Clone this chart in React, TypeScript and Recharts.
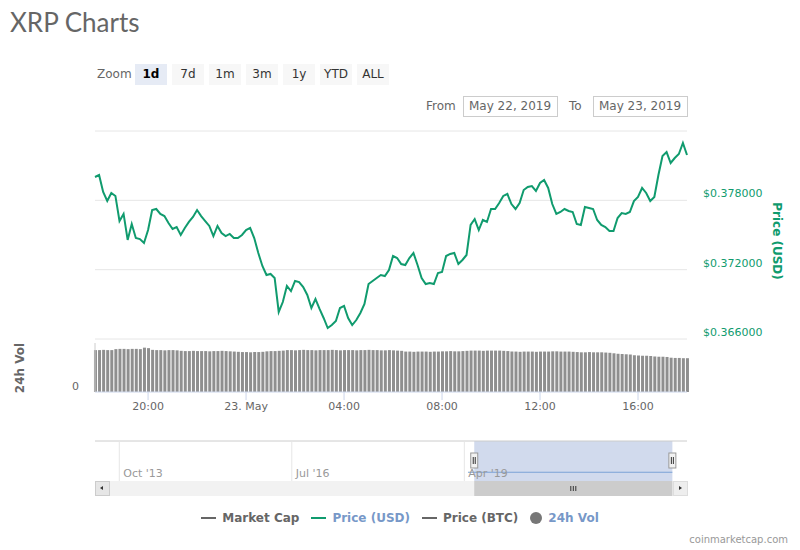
import React from "react";
import {
  LineChart,
  Line,
  BarChart,
  Bar,
  XAxis,
  YAxis,
  CartesianGrid,
  ReferenceArea,
  ReferenceLine,
} from "recharts";

// XRP price (USD), one point every 10 minutes from 22 May 17:50 to 23 May 18:00
const priceUsd = [
  0.38002, 0.38019, 0.37872, 0.37794, 0.37864, 0.37838, 0.37621, 0.37682, 0.37457, 0.37595,
  0.37474, 0.37465, 0.37431, 0.37543, 0.37716, 0.37725, 0.37682, 0.37664, 0.37604, 0.37552,
  0.37569, 0.375, 0.37561, 0.37613, 0.37656, 0.37716, 0.37664, 0.37621, 0.37578, 0.37491,
  0.37578, 0.37517, 0.37491, 0.37509, 0.37474, 0.37474, 0.375, 0.37543, 0.37561, 0.37474,
  0.37344, 0.37232, 0.37154, 0.37163, 0.37128, 0.36834, 0.3692, 0.37059, 0.37015, 0.37102,
  0.37093, 0.3705, 0.36981, 0.36868, 0.36946, 0.3686, 0.36782, 0.36695, 0.36721, 0.36756,
  0.36868, 0.36886, 0.36782, 0.36721, 0.36764, 0.36825, 0.36903, 0.37076, 0.37102, 0.37128,
  0.37154, 0.37145, 0.37197, 0.37318, 0.37301, 0.37249, 0.3724, 0.37301, 0.37344, 0.3724,
  0.37128, 0.37076, 0.37085, 0.37076, 0.37171, 0.3718, 0.37318, 0.37336, 0.37344, 0.37249,
  0.37284, 0.37327, 0.37587, 0.37638, 0.37543, 0.3763, 0.37613, 0.37725, 0.37725, 0.37777,
  0.37838, 0.37855, 0.37768, 0.37725, 0.37777, 0.37889, 0.37915, 0.37924, 0.37881, 0.3795,
  0.37976, 0.37907, 0.37768, 0.37682, 0.37699, 0.37725, 0.37708, 0.37699, 0.37595, 0.37587,
  0.37742, 0.37734, 0.37725, 0.3763, 0.37587, 0.37569, 0.37535, 0.37535, 0.37647, 0.3769,
  0.37682, 0.37699, 0.37794, 0.37829, 0.37907, 0.37864, 0.37794, 0.37829, 0.38019, 0.38184,
  0.38218, 0.38123, 0.38166, 0.38201, 0.38296, 0.38192,
];

// 24h volume (billions USD), same timestamps
const volume24h = [
  1.71, 1.71, 1.72, 1.71, 1.71,
  1.75, 1.76, 1.76, 1.75, 1.76, 1.76, 1.75,
  1.81, 1.79,
  1.72, 1.71, 1.71, 1.7, 1.71, 1.71, 1.7,
  1.68, 1.67, 1.67, 1.68, 1.67, 1.67, 1.67, 1.66, 1.67, 1.67, 1.68, 1.67, 1.66,
  1.65, 1.64, 1.63,
  1.63, 1.62, 1.63, 1.63, 1.64,
  1.66, 1.67, 1.67, 1.68, 1.69,
  1.71, 1.71, 1.7, 1.71, 1.72, 1.71, 1.71, 1.7, 1.71, 1.71, 1.71, 1.72, 1.71, 1.7, 1.71,
  1.71, 1.71, 1.7, 1.71, 1.71, 1.72, 1.71, 1.71, 1.7, 1.7, 1.71, 1.7, 1.69, 1.68,
  1.65, 1.65, 1.64, 1.65, 1.65, 1.65, 1.64, 1.65, 1.65,
  1.66, 1.66, 1.67, 1.66, 1.66, 1.67, 1.68,
  1.69, 1.69, 1.69, 1.68, 1.69, 1.69, 1.69, 1.69, 1.68, 1.67,
  1.65, 1.65, 1.64, 1.65, 1.65, 1.65, 1.64, 1.65, 1.65, 1.65, 1.66, 1.66, 1.65, 1.65, 1.65, 1.64, 1.63,
  1.62, 1.62, 1.63, 1.62, 1.62, 1.62, 1.61, 1.6, 1.58,
  1.56, 1.55, 1.54, 1.53,
  1.5, 1.49, 1.48, 1.48, 1.47,
  1.45, 1.44, 1.44, 1.43,
  1.4, 1.39, 1.39, 1.38, 1.38,
];

const STEP_MIN = 10;
const timeTicks = [130, 370, 610, 850, 1090, 1330];
const timeTickLabels = ["20:00", "23. May", "04:00", "08:00", "12:00", "16:00"];
const priceTicks = [0.366, 0.372, 0.378, 0.384];

const zoomButtons = ["1d", "7d", "1m", "3m", "1y", "YTD", "ALL"];

// navigator: months since Jan 2013
const navTicks = [9, 42, 75];
const navTickLabels = ["Oct '13", "Jul '16", "Apr '19"];
const navLineMonths = [75.7, 114.8];
const navLinePrice = [0.375, 0.375];
const navSelection = [76.9, 114.8];

const legendNames = ["Market Cap", "Price (USD)", "Price (BTC)", "24h Vol"];
const legendSymbolColors = ["#666666", "#109b6e", "#666666", "#777777"];
const legendTextColors = ["#666666", "#7798c8", "#666666", "#7798c8"];

const FONT = '"DejaVu Sans", Verdana, sans-serif';
const GREEN = "#109b6e";

const data = priceUsd.map((p, i) => ({ t: i * STEP_MIN, price: p, vol: volume24h[i] }));
const navData = navLineMonths.map((m, i) => ({ m, p: navLinePrice[i] }));

const PriceTick = (props: any) => {
  const { x, y, payload } = props;
  if (payload.value >= 0.384) return null;
  return (
    <text x={x + 8} y={y - 3} fill={GREEN} fontSize={11} fontFamily={FONT} textAnchor="start">
      ${payload.value.toFixed(6)}
    </text>
  );
};

const VolTick = (props: any) => {
  const { x, y, payload } = props;
  return (
    <text
      x={x - 8}
      y={y - 2}
      fill="#666666"
      style={{ fill: "#666666" }}
      fontSize={11}
      fontFamily={FONT}
      textAnchor="end"
    >
      {String(payload.value)}
    </text>
  );
};

const SelectionShape = (props: any) => {
  const { x, y, width, height } = props;
  const handle = (hx: number) => (
    <g>
      <rect x={hx - 3.5} y={y + 12} width={7} height={15} fill="#f2f2f2" stroke="#999" strokeWidth={1} />
      <line x1={hx - 1} y1={y + 16} x2={hx - 1} y2={y + 23} stroke="#333" strokeWidth={1} />
      <line x1={hx + 1} y1={y + 16} x2={hx + 1} y2={y + 23} stroke="#333" strokeWidth={1} />
    </g>
  );
  const cx = x + width / 2;
  return (
    <g>
      <rect x={x} y={y} width={width} height={height} fill="#6685c2" fillOpacity={0.3} />
      <rect x={x} y={y + height} width={width} height={15} fill="#cccccc" />
      {[-2.5, 0, 2.5].map((d) => (
        <line key={d} x1={cx + d} y1={y + height + 5} x2={cx + d} y2={y + height + 10} stroke="#333" strokeWidth={1} />
      ))}
      {handle(x)}
      {handle(x + width)}
    </g>
  );
};

export default function App() {
  return (
    <div
      style={{
        position: "absolute",
        left: 0,
        top: 0,
        width: 800,
        height: 550,
        background: "#fff",
        fontFamily: FONT,
        overflow: "hidden",
      }}
    >
      <div
        style={{
          position: "absolute",
          left: 10,
          top: 6,
          fontSize: 26,
          color: "#666",
          fontFamily: "Lato, sans-serif",
        }}
      >
        XRP Charts
      </div>

      {/* range selector */}
      <div style={{ position: "absolute", left: 97, top: 64, height: 21, lineHeight: "21px", fontSize: 12, color: "#666" }}>
        Zoom
      </div>
      <div style={{ position: "absolute", left: 135, top: 64, display: "flex", gap: 5 }}>
        {zoomButtons.map((b, i) => (
          <div
            key={b}
            style={{
              width: 32,
              height: 21,
              lineHeight: "21px",
              textAlign: "center",
              fontSize: 12,
              background: i === 0 ? "#e6ebf5" : "#f7f7f7",
              color: i === 0 ? "#000" : "#333",
              fontWeight: i === 0 ? "bold" : "normal",
            }}
          >
            {b}
          </div>
        ))}
      </div>

      <div style={{ position: "absolute", left: 426, top: 96, lineHeight: "21px", fontSize: 12, color: "#666" }}>From</div>
      <div
        style={{
          position: "absolute",
          left: 463,
          top: 96,
          width: 88,
          height: 19,
          border: "1px solid #ccc",
          lineHeight: "19px",
          fontSize: 12,
          color: "#666",
          paddingLeft: 5,
        }}
      >
        May 22, 2019
      </div>
      <div style={{ position: "absolute", left: 569, top: 96, lineHeight: "21px", fontSize: 12, color: "#666" }}>To</div>
      <div
        style={{
          position: "absolute",
          left: 593,
          top: 96,
          width: 88,
          height: 19,
          border: "1px solid #ccc",
          lineHeight: "19px",
          fontSize: 12,
          color: "#666",
          paddingLeft: 5,
        }}
      >
        May 23, 2019
      </div>

      {/* price panel */}
      <div style={{ position: "absolute", left: 0, top: 120 }}>
        <LineChart width={800} height={230} data={data} margin={{ top: 11, right: 33, bottom: 11, left: 95 }}>
          <CartesianGrid vertical={false} stroke="#e6e6e6" />
          <XAxis dataKey="t" type="number" domain={[0, 1450]} hide />
          <YAxis
            orientation="right"
            width={80}
            domain={[0.366, 0.384]}
            ticks={priceTicks}
            axisLine={false}
            tickLine={false}
            tick={<PriceTick />}
          />
          <Line
            type="linear"
            dataKey="price"
            stroke={GREEN}
            strokeWidth={2}
            dot={false}
            isAnimationActive={false}
          />
        </LineChart>
      </div>
      <div
        style={{
          position: "absolute",
          left: 777,
          top: 241,
          transform: "translate(-50%, -50%) rotate(90deg)",
          whiteSpace: "nowrap",
          fontSize: 12,
          fontWeight: "bold",
          color: GREEN,
        }}
      >
        Price (USD)
      </div>

      {/* volume panel */}
      <div style={{ position: "absolute", left: 0, top: 330 }}>
        <BarChart width={800} height={100} data={data} margin={{ top: 13, right: 113, bottom: 8, left: 55 }}>
          <XAxis
            dataKey="t"
            type="number"
            domain={[0, 1450]}
            ticks={timeTicks}
            tickFormatter={(v) => timeTickLabels[timeTicks.indexOf(v)]}
            height={30}
            tickSize={8}
            axisLine={{ stroke: "#ccd6eb" }}
            tickLine={{ stroke: "#ccd6eb" }}
            tick={{ fill: "#666", fontSize: 11, fontFamily: FONT }}
          />
          <YAxis
            width={40}
            domain={[0, 2]}
            ticks={[0]}
            axisLine={{ stroke: "#ccc" }}
            tickLine={false}
            tick={(p: any) => <VolTick {...p} />}
          />
          <Bar dataKey="vol" fill="#8f8f8f" barSize={3} isAnimationActive={false} />
        </BarChart>
      </div>
      <div
        style={{
          position: "absolute",
          left: 20,
          top: 368,
          transform: "translate(-50%, -50%) rotate(-90deg)",
          whiteSpace: "nowrap",
          fontSize: 12,
          fontWeight: "bold",
          color: "#666",
        }}
      >
        24h Vol
      </div>

      {/* scrollbar track */}
      <div style={{ position: "absolute", left: 95, top: 481, width: 592, height: 15, background: "#f2f2f2" }} />
      <div
        style={{
          position: "absolute",
          left: 95,
          top: 481,
          width: 13,
          height: 13,
          background: "#e6e6e6",
          border: "1px solid #ccc",
        }}
      >
        <div
          style={{
            position: "absolute",
            left: 4,
            top: 4,
            width: 0,
            height: 0,
            borderTop: "2.5px solid transparent",
            borderBottom: "2.5px solid transparent",
            borderRight: "3px solid #333",
          }}
        />
      </div>
      <div
        style={{
          position: "absolute",
          left: 673,
          top: 481,
          width: 13,
          height: 13,
          background: "#eeeeee",
          border: "1px solid #ddd",
        }}
      >
        <div
          style={{
            position: "absolute",
            left: 5,
            top: 4,
            width: 0,
            height: 0,
            borderTop: "2.5px solid transparent",
            borderBottom: "2.5px solid transparent",
            borderLeft: "3px solid #333",
          }}
        />
      </div>

      {/* navigator */}
      <div style={{ position: "absolute", left: 0, top: 430 }}>
        <LineChart width={800} height={70} data={navData} margin={{ top: 11, right: 113, bottom: 19, left: 95 }}>
          <XAxis dataKey="m" type="number" domain={[4.35, 117.6]} hide />
          <YAxis hide domain={[0.34, 0.5]} />
          <ReferenceLine y={0.5} stroke="#cccccc" />
          {navTicks.map((m, i) => (
            <ReferenceLine
              key={m}
              x={m}
              stroke="#e6e6e6"
              label={{
                value: navTickLabels[i],
                position: "insideBottomLeft",
                offset: 4,
                fill: "#999",
                fontSize: 11,
                fontFamily: FONT,
              }}
            />
          ))}
          <Line
            type="linear"
            dataKey="p"
            stroke="#7ba3d6"
            strokeWidth={1}
            dot={false}
            isAnimationActive={false}
          />
          <ReferenceArea x1={navSelection[0]} x2={navSelection[1]} shape={<SelectionShape />} ifOverflow="visible" />
        </LineChart>
      </div>

      {/* legend */}
      <div
        style={{
          position: "absolute",
          left: 0,
          top: 509,
          width: 800,
          display: "flex",
          justifyContent: "center",
          gap: 12,
          fontSize: 12,
          fontWeight: "bold",
        }}
      >
        {legendNames.map((n, i) => (
          <div key={n} style={{ display: "flex", alignItems: "center", height: 18 }}>
            {i === 3 ? (
              <div
                style={{
                  width: 12,
                  height: 12,
                  borderRadius: 6,
                  background: legendSymbolColors[i],
                  marginRight: 6,
                }}
              />
            ) : (
              <div style={{ width: 15, height: 2, background: legendSymbolColors[i], marginRight: 6 }} />
            )}
            <span style={{ color: legendTextColors[i] }}>{n}</span>
          </div>
        ))}
      </div>

      <div style={{ position: "absolute", right: 12, top: 534, fontSize: 10, color: "#999" }}>coinmarketcap.com</div>
    </div>
  );
}
